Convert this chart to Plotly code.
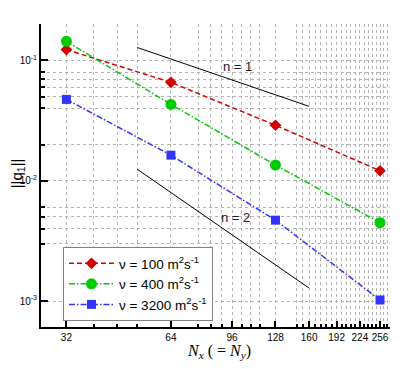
import numpy as np
import plotly.graph_objects as go

# grid resolution
n_grid = [32, 64, 128, 256]

# error norms
err_nu100 = [0.123, 0.0657, 0.0289, 0.0121]
err_nu400 = [0.144, 0.0431, 0.0135, 0.00448]
err_nu3200 = [0.0474, 0.0163, 0.0047, 0.00102]

series_names = [
    'ν = 100 m<sup>2</sup>s<sup>-1</sup>',
    'ν = 400 m<sup>2</sup>s<sup>-1</sup>',
    'ν = 3200 m<sup>2</sup>s<sup>-1</sup>',
]

# slope guide lines
guide_x = [51.2, 160]
guide_n1 = [0.128, 0.0415]
guide_n2 = [0.01245, 0.00128]

x_ticks = [32, 64, 96, 128, 160, 192, 224, 256]
x_minor = [38.4, 44.8, 51.2, 76.8, 83.2, 89.6, 102.4, 108.8, 115.2,
           147.2, 153.6, 166.4, 172.8, 179.2, 185.6, 198.4, 204.8, 211.2,
           217.6, 230.4, 236.8, 243.2, 249.6, 262.4, 268.8]
y_ticks = [0.1, 0.01, 0.001]
y_labels = ['10<sup>-1</sup>', '10<sup>-2</sup>', '10<sup>-3</sup>']
y_minor = [0.2, 0.08, 0.07, 0.06, 0.05, 0.04, 0.02,
           0.006, 0.005, 0.004, 0.003]

styles = [
    dict(color='#d40000', dash='5px,3px', symbol='diamond', size=9),
    dict(color='#00cc00', dash='6px,2px,1.5px,2px', symbol='circle', size=11),
    dict(color='#3333ff', dash='6px,2px,1.5px,2px', symbol='square', size=9),
]

fig = go.Figure()

for ys, name, st in zip([err_nu100, err_nu400, err_nu3200], series_names, styles):
    fig.add_trace(go.Scatter(
        x=n_grid, y=ys, name=name, mode='lines+markers',
        line=dict(color=st['color'], dash=st['dash'], width=1.5),
        marker=dict(symbol=st['symbol'], size=st['size'], color=st['color'],
                    line=dict(width=0)),
    ))

for ys in [guide_n1, guide_n2]:
    fig.add_trace(go.Scatter(
        x=guide_x, y=ys, mode='lines', showlegend=False,
        line=dict(color='black', width=1), hoverinfo='skip',
    ))

fig.add_annotation(x=np.log10(99.5), y=np.log10(0.089), text='n = 1',
                   showarrow=False, font=dict(size=13, color='#202020'))
fig.add_annotation(x=np.log10(98.5), y=np.log10(0.00493), text='n = 2',
                   showarrow=False, font=dict(size=13, color='#202020'))

# axis titles
fig.add_annotation(xref='paper', yref='paper', x=0.51, y=-0.0825,
                   text='<i>N<sub>x</sub></i> ( = <i>N<sub>y</sub></i>)',
                   showarrow=False, xanchor='center', yanchor='middle',
                   font=dict(family='Liberation Serif, serif', size=16))
fig.add_annotation(xref='paper', yref='paper', x=-0.068, y=0.508,
                   text='||q<sub>1</sub>||', textangle=-90,
                   showarrow=False, xanchor='center', yanchor='middle',
                   font=dict(size=15))

grid = dict(showgrid=True, gridcolor='#b4b4b4', griddash='dot', gridwidth=1)

# the page adds an 8px body margin, so the figure is 8px smaller each way
fig.update_layout(
    width=407, height=361,
    margin=dict(l=33, r=25, t=16, b=42),
    paper_bgcolor='white', plot_bgcolor='white',
    font=dict(family='Arial, Liberation Sans, sans-serif', color='black'),
    xaxis=dict(
        type='log', range=[1.432, 2.43704], automargin=False,
        tickvals=x_ticks, ticktext=[str(v) for v in x_ticks],
        ticks='inside', ticklen=6, tickwidth=1.5, tickcolor='black',
        tickfont=dict(size=10),
        showline=True, linewidth=2, linecolor='black',
        zeroline=False,
        minor=dict(tickvals=x_minor, ticks='inside', ticklen=3,
                   tickcolor='black', **grid),
        **grid,
    ),
    yaxis=dict(
        type='log', range=[-3.2158, -0.6975], automargin=False,
        tickvals=y_ticks, ticktext=y_labels,
        ticks='inside', ticklen=7, tickwidth=1.5, tickcolor='black',
        tickfont=dict(size=10),
        showline=True, linewidth=2, linecolor='black',
        zeroline=False,
        minor=dict(tickvals=y_minor, ticks='inside', ticklen=4,
                   tickcolor='black', **grid),
        **grid,
    ),
    legend=dict(
        x=0.063, y=0.264, xanchor='left', yanchor='top',
        bgcolor='white', bordercolor='#808080', borderwidth=1,
        font=dict(size=13.5), tracegroupgap=0, itemwidth=45,
    ),
)

fig.write_html("out.html")
